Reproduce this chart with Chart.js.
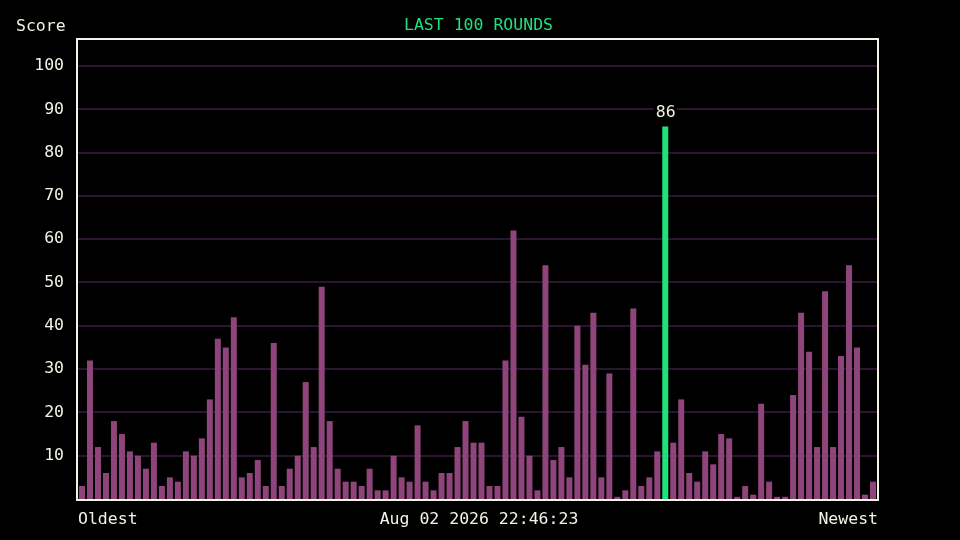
<!DOCTYPE html>
<html>
<head>
<meta charset="utf-8">
<script src="https://cdn.jsdelivr.net/npm/chart.js@4/dist/chart.umd.min.js"></script>
<style>
  html, body { margin: 0; padding: 0; background: #000; }
  canvas { display: block; }
</style>
</head>
<body>
<canvas id="c" width="960" height="540"></canvas>
<script>
const rounds = [
  "1","2","3","4","5","6","7","8","9","10",
  "11","12","13","14","15","16","17","18","19","20",
  "21","22","23","24","25","26","27","28","29","30",
  "31","32","33","34","35","36","37","38","39","40",
  "41","42","43","44","45","46","47","48","49","50",
  "51","52","53","54","55","56","57","58","59","60",
  "61","62","63","64","65","66","67","68","69","70",
  "71","72","73","74","75","76","77","78","79","80",
  "81","82","83","84","85","86","87","88","89","90",
  "91","92","93","94","95","96","97","98","99","100"
];
const scores = [
  3,32,12,6,18,15,11,10,7,13,3,5,4,11,10,14,23,37,35,42,5,6,9,3,36,
  3,7,10,27,12,49,18,7,4,4,3,7,2,2,10,5,4,17,4,2,6,6,12,18,13,
  13,3,3,32,62,19,10,2,54,9,12,5,40,31,43,5,29,0.5,2,44,3,5,11,86,13,
  23,6,4,11,8,15,14,0.5,3,1,22,4,0.5,0.5,24,43,34,12,48,12,33,54,35,1,4
];
const highlightIndex = 73;
const yTicks = [10,20,30,40,50,60,70,80,90,100];
const titleText = "LAST 100 ROUNDS";
const yLabel = "Score";
const leftLabel = "Oldest";
const centerLabel = "Aug 02 2026 22:46:23";
const rightLabel = "Newest";

const FONT = '"DejaVu Sans Mono", monospace';
const FSIZE = 16.5;
const TEXT = '#f2f2e6';
const GREEN = '#1ee27b';
const PURPLE = '#8f457b';
const GRID = '#2a1530';

const barColors = scores.map((v, i) => i === highlightIndex ? GREEN : PURPLE);

const overlay = {
  id: 'overlay',
  afterDatasetsDraw(chart) {
    const ctx = chart.ctx;
    const a = chart.chartArea;
    ctx.save();
    // frame
    ctx.strokeStyle = TEXT;
    ctx.lineWidth = 2;
    ctx.strokeRect(a.left - 1, a.top - 1, a.right - a.left + 2, a.bottom - a.top + 2);
    // highlight label
    const bar = chart.getDatasetMeta(0).data[highlightIndex];
    ctx.font = FSIZE + 'px ' + FONT;
    ctx.textAlign = 'center';
    ctx.textBaseline = 'middle';
    const txt = String(scores[highlightIndex]);
    const w = ctx.measureText(txt).width + 3;
    const ly = bar.y - 15;
    ctx.fillStyle = '#000';
    ctx.fillRect(bar.x - w / 2, ly - 9, w, 18);
    ctx.fillStyle = TEXT;
    ctx.fillText(txt, bar.x + 0.5, ly + 1);
    // texts
    ctx.fillStyle = GREEN;
    ctx.fillText(titleText, (a.left + a.right) / 2 + 1, 26);
    ctx.fillStyle = TEXT;
    ctx.textAlign = 'left';
    ctx.fillText(yLabel, 16, 27);
    ctx.fillText(leftLabel, a.left, 520);
    ctx.textAlign = 'center';
    ctx.fillText(centerLabel, (a.left + a.right) / 2 + 1.5, 520);
    ctx.textAlign = 'right';
    ctx.fillText(rightLabel, a.right + 1, 520);
    ctx.restore();
  }
};

new Chart(document.getElementById('c'), {
  type: 'bar',
  data: {
    labels: rounds,
    datasets: [{
      data: scores,
      backgroundColor: barColors,
      borderWidth: 0,
      barPercentage: 0.75,
      categoryPercentage: 1.0
    }]
  },
  options: {
    responsive: false,
    animation: false,
    devicePixelRatio: 1,
    layout: { padding: { top: 40, right: 83, bottom: 41, left: 0 } },
    plugins: { legend: { display: false }, tooltip: { enabled: false }, title: { display: false } },
    scales: {
      x: { display: false },
      y: {
        min: 0,
        max: 106,
        afterFit(scale) { scale.width = 78; },
        afterBuildTicks(scale) { scale.ticks = yTicks.map(v => ({ value: v })); },
        border: { display: false },
        grid: { color: GRID, lineWidth: 2, drawTicks: false },
        ticks: {
          color: TEXT,
          padding: 14,
          font: { family: FONT, size: FSIZE }
        }
      }
    }
  },
  plugins: [overlay]
});
</script>
</body>
</html>
